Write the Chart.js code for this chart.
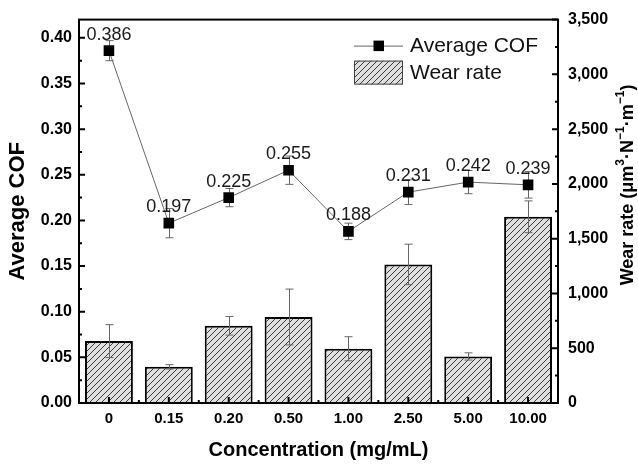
<!DOCTYPE html>
<html>
<head>
<meta charset="utf-8">
<script src="https://cdn.jsdelivr.net/npm/chart.js@4.4.1/dist/chart.umd.min.js"></script>
<style>
  body { margin: 0; background: #fff; }
  canvas { display: block; }
</style>
</head>
<body>
<canvas id="myCanvas" width="638" height="464"></canvas>
<script>
const concentrations = ["0", "0.15", "0.20", "0.50", "1.00", "2.50", "5.00", "10.00"];
const averageCof = [0.386, 0.197, 0.225, 0.255, 0.188, 0.231, 0.242, 0.239];
const cofError = [0.011, 0.016, 0.010, 0.0155, 0.009, 0.0135, 0.0127, 0.0145];
const wearRate = [565, 330, 705, 785, 495, 1265, 425, 1700];
const wearError = [150, 20, 85, 255, 110, 185, 33, 145];
const cofTicks = [0, 0.05, 0.1, 0.15, 0.2, 0.25, 0.3, 0.35, 0.4];
const wearTicks = [0, 500, 1000, 1500, 2000, 2500, 3000, 3500];

const FONT = "Arial, 'Liberation Sans', sans-serif";

let ctx = document.getElementById("myCanvas").getContext("2d");

// hatched fill for the wear rate bars
function makeHatch() {
  let c = document.createElement("canvas");
  c.width = 6;
  c.height = 6;
  let g = c.getContext("2d");
  g.fillStyle = "#e0e0e0";
  g.fillRect(0, 0, 6, 6);
  g.strokeStyle = "#3a3a3a";
  g.lineWidth = 1;
  g.beginPath();
  g.moveTo(0, 6); g.lineTo(6, 0);
  g.moveTo(-1, 1); g.lineTo(1, -1);
  g.moveTo(5, 7); g.lineTo(7, 5);
  g.stroke();
  return ctx.createPattern(c, "repeat");
}
const hatch = makeHatch();

function errBar(c, x, y1, y2, cap) {
  c.moveTo(x, y1); c.lineTo(x, y2);
  c.moveTo(x - cap, y1); c.lineTo(x + cap, y1);
  c.moveTo(x - cap, y2); c.lineTo(x + cap, y2);
}

const errorBars = {
  id: "errorBars",
  afterDatasetDraw(chart, args) {
    if (args.index !== 1) return;
    const c = chart.ctx, y1 = chart.scales.y1;
    const meta = chart.getDatasetMeta(1);
    c.save();
    c.strokeStyle = "#666";
    c.lineWidth = 1;
    c.beginPath();
    meta.data.forEach((bar, i) => {
      errBar(c, Math.round(bar.x) + 0.5,
        y1.getPixelForValue(wearRate[i] + wearError[i]),
        y1.getPixelForValue(wearRate[i] - wearError[i]), 4);
    });
    c.stroke();
    c.restore();
  },
  beforeDatasetDraw(chart, args) {
    if (args.index !== 0) return;
    const c = chart.ctx, y = chart.scales.y;
    const meta = chart.getDatasetMeta(0);
    c.save();
    c.strokeStyle = "#666";
    c.lineWidth = 1;
    c.beginPath();
    meta.data.forEach((pt, i) => {
      errBar(c, Math.round(pt.x) + 0.5,
        y.getPixelForValue(averageCof[i] + cofError[i]),
        y.getPixelForValue(averageCof[i] - cofError[i]), 4);
    });
    c.stroke();
    c.restore();
  }
};

const frameAndExtras = {
  id: "frameAndExtras",
  afterDraw(chart) {
    const c = chart.ctx, a = chart.chartArea, s = chart.scales;
    c.save();

    // value labels on the COF points
    c.fillStyle = "#1a1a1a";
    c.font = "18px " + FONT;
    c.textAlign = "center";
    c.textBaseline = "middle";
    chart.getDatasetMeta(0).data.forEach((pt, i) => {
      c.fillText(averageCof[i].toFixed(3), pt.x, pt.y - 16);
    });

    // frame
    c.strokeStyle = "#000";
    c.lineWidth = 2;
    c.strokeRect(a.left, a.top, a.right - a.left, a.bottom - a.top);

    // inward ticks
    c.beginPath();
    for (let i = 0; i <= 16; i++) {
      const py = s.y.getPixelForValue(i * 0.025);
      c.moveTo(a.left, py); c.lineTo(a.left + (i % 2 ? 3 : 6), py);
    }
    for (let i = 0; i <= 14; i++) {
      const py = s.y1.getPixelForValue(i * 250);
      c.moveTo(a.right, py); c.lineTo(a.right - (i % 2 ? 3 : 6), py);
    }
    for (let i = 0; i < concentrations.length; i++) {
      const px = s.x.getPixelForValue(i);
      c.moveTo(px, a.bottom); c.lineTo(px, a.bottom - 6);
      if (i < concentrations.length - 1) {
        const mx = (px + s.x.getPixelForValue(i + 1)) / 2;
        c.moveTo(mx, a.bottom); c.lineTo(mx, a.bottom - 3);
      }
    }
    c.stroke();

    // legend
    const lx = a.right - 204, ly = a.top + 26;
    c.strokeStyle = "#666";
    c.lineWidth = 1;
    c.beginPath();
    c.moveTo(lx, ly + 0.5); c.lineTo(lx + 49, ly + 0.5);
    c.stroke();
    c.fillStyle = "#000";
    c.fillRect(lx + 19.5, ly - 5, 10.5, 10.5);
    c.fillStyle = hatch;
    c.fillRect(lx, ly + 15, 49, 24);
    c.strokeStyle = "#444";
    c.lineWidth = 1;
    c.strokeRect(lx + 0.5, ly + 15.5, 48, 23);
    c.fillStyle = "#111";
    c.font = "21px " + FONT;
    c.textAlign = "left";
    c.textBaseline = "middle";
    c.fillText("Average COF", lx + 56, ly + 1);
    c.fillText("Wear rate", lx + 56, ly + 28);

    // right axis title, read bottom to top, with superscripts
    const parts = [
      ["Wear rate (\u03bcm", false], ["3", true], ["\u00b7N", false],
      ["\u22121", true], ["\u00b7m", false], ["\u22121", true], [")", false]
    ];
    const mainFont = "bold 18px " + FONT, supFont = "bold 12px " + FONT;
    let total = 0;
    parts.forEach(p => { c.font = p[1] ? supFont : mainFont; total += c.measureText(p[0]).width; });
    c.translate(628, 185);
    c.rotate(-Math.PI / 2);
    c.fillStyle = "#000";
    c.textBaseline = "middle";
    let x = -total / 2;
    parts.forEach(p => {
      c.font = p[1] ? supFont : mainFont;
      c.fillText(p[0], x, p[1] ? -7 : 0);
      x += c.measureText(p[0]).width;
    });
    c.restore();
  }
};

let chartInstance = new Chart(ctx, {
  type: "bar",
  data: {
    labels: concentrations,
    datasets: [
      {
        type: "line",
        label: "Average COF",
        data: averageCof,
        yAxisID: "y",
        order: 0,
        borderColor: "#666",
        borderWidth: 1,
        pointStyle: "rect",
        pointRadius: 7.5,
        pointBackgroundColor: "#000",
        pointBorderColor: "#000",
        pointBorderWidth: 0,
        tension: 0,
        fill: false
      },
      {
        type: "bar",
        label: "Wear rate",
        data: wearRate,
        yAxisID: "y1",
        order: 1,
        backgroundColor: hatch,
        borderColor: "#000",
        borderWidth: 2,
        barPercentage: 0.8,
        categoryPercentage: 1.0
      }
    ]
  },
  options: {
    responsive: false,
    animation: false,
    devicePixelRatio: 1,
    layout: { padding: { top: 16, left: 0, right: 0, bottom: 0 } },
    plugins: {
      legend: { display: false },
      tooltip: { enabled: false }
    },
    scales: {
      x: {
        offset: true,
        grid: { display: false, drawTicks: false },
        border: { display: false },
        ticks: { color: "#000", padding: 7, font: { family: FONT, size: 15, weight: "bold" } },
        title: {
          display: true,
          text: "Concentration (mg/mL)",
          color: "#000",
          padding: { top: 0, bottom: 2 },
          font: { family: FONT, size: 20, weight: "bold" }
        },
        afterFit(axis) { axis.height = 61; }
      },
      y: {
        position: "left",
        min: 0,
        max: 0.42,
        afterBuildTicks(axis) { axis.ticks = cofTicks.map(v => ({ value: v })); },
        grid: { display: false, drawTicks: false },
        border: { display: false },
        ticks: {
          color: "#000",
          padding: 7,
          font: { family: FONT, size: 16, weight: "bold" },
          callback: v => Number(v).toFixed(2)
        },
        title: {
          display: true,
          text: "Average COF",
          color: "#000",
          padding: { top: 5, bottom: 0 },
          font: { family: FONT, size: 22, weight: "bold" }
        },
        afterFit(axis) { axis.width = 79; }
      },
      y1: {
        position: "right",
        min: 0,
        max: 3500,
        afterBuildTicks(axis) { axis.ticks = wearTicks.map(v => ({ value: v })); },
        grid: { display: false, drawTicks: false },
        border: { display: false },
        ticks: {
          color: "#000",
          padding: 10,
          font: { family: FONT, size: 16, weight: "bold" },
          callback: v => Number(v).toLocaleString("en-US")
        },
        afterFit(axis) { axis.width = 80; }
      }
    }
  },
  plugins: [errorBars, frameAndExtras]
});
</script>
</body>
</html>
